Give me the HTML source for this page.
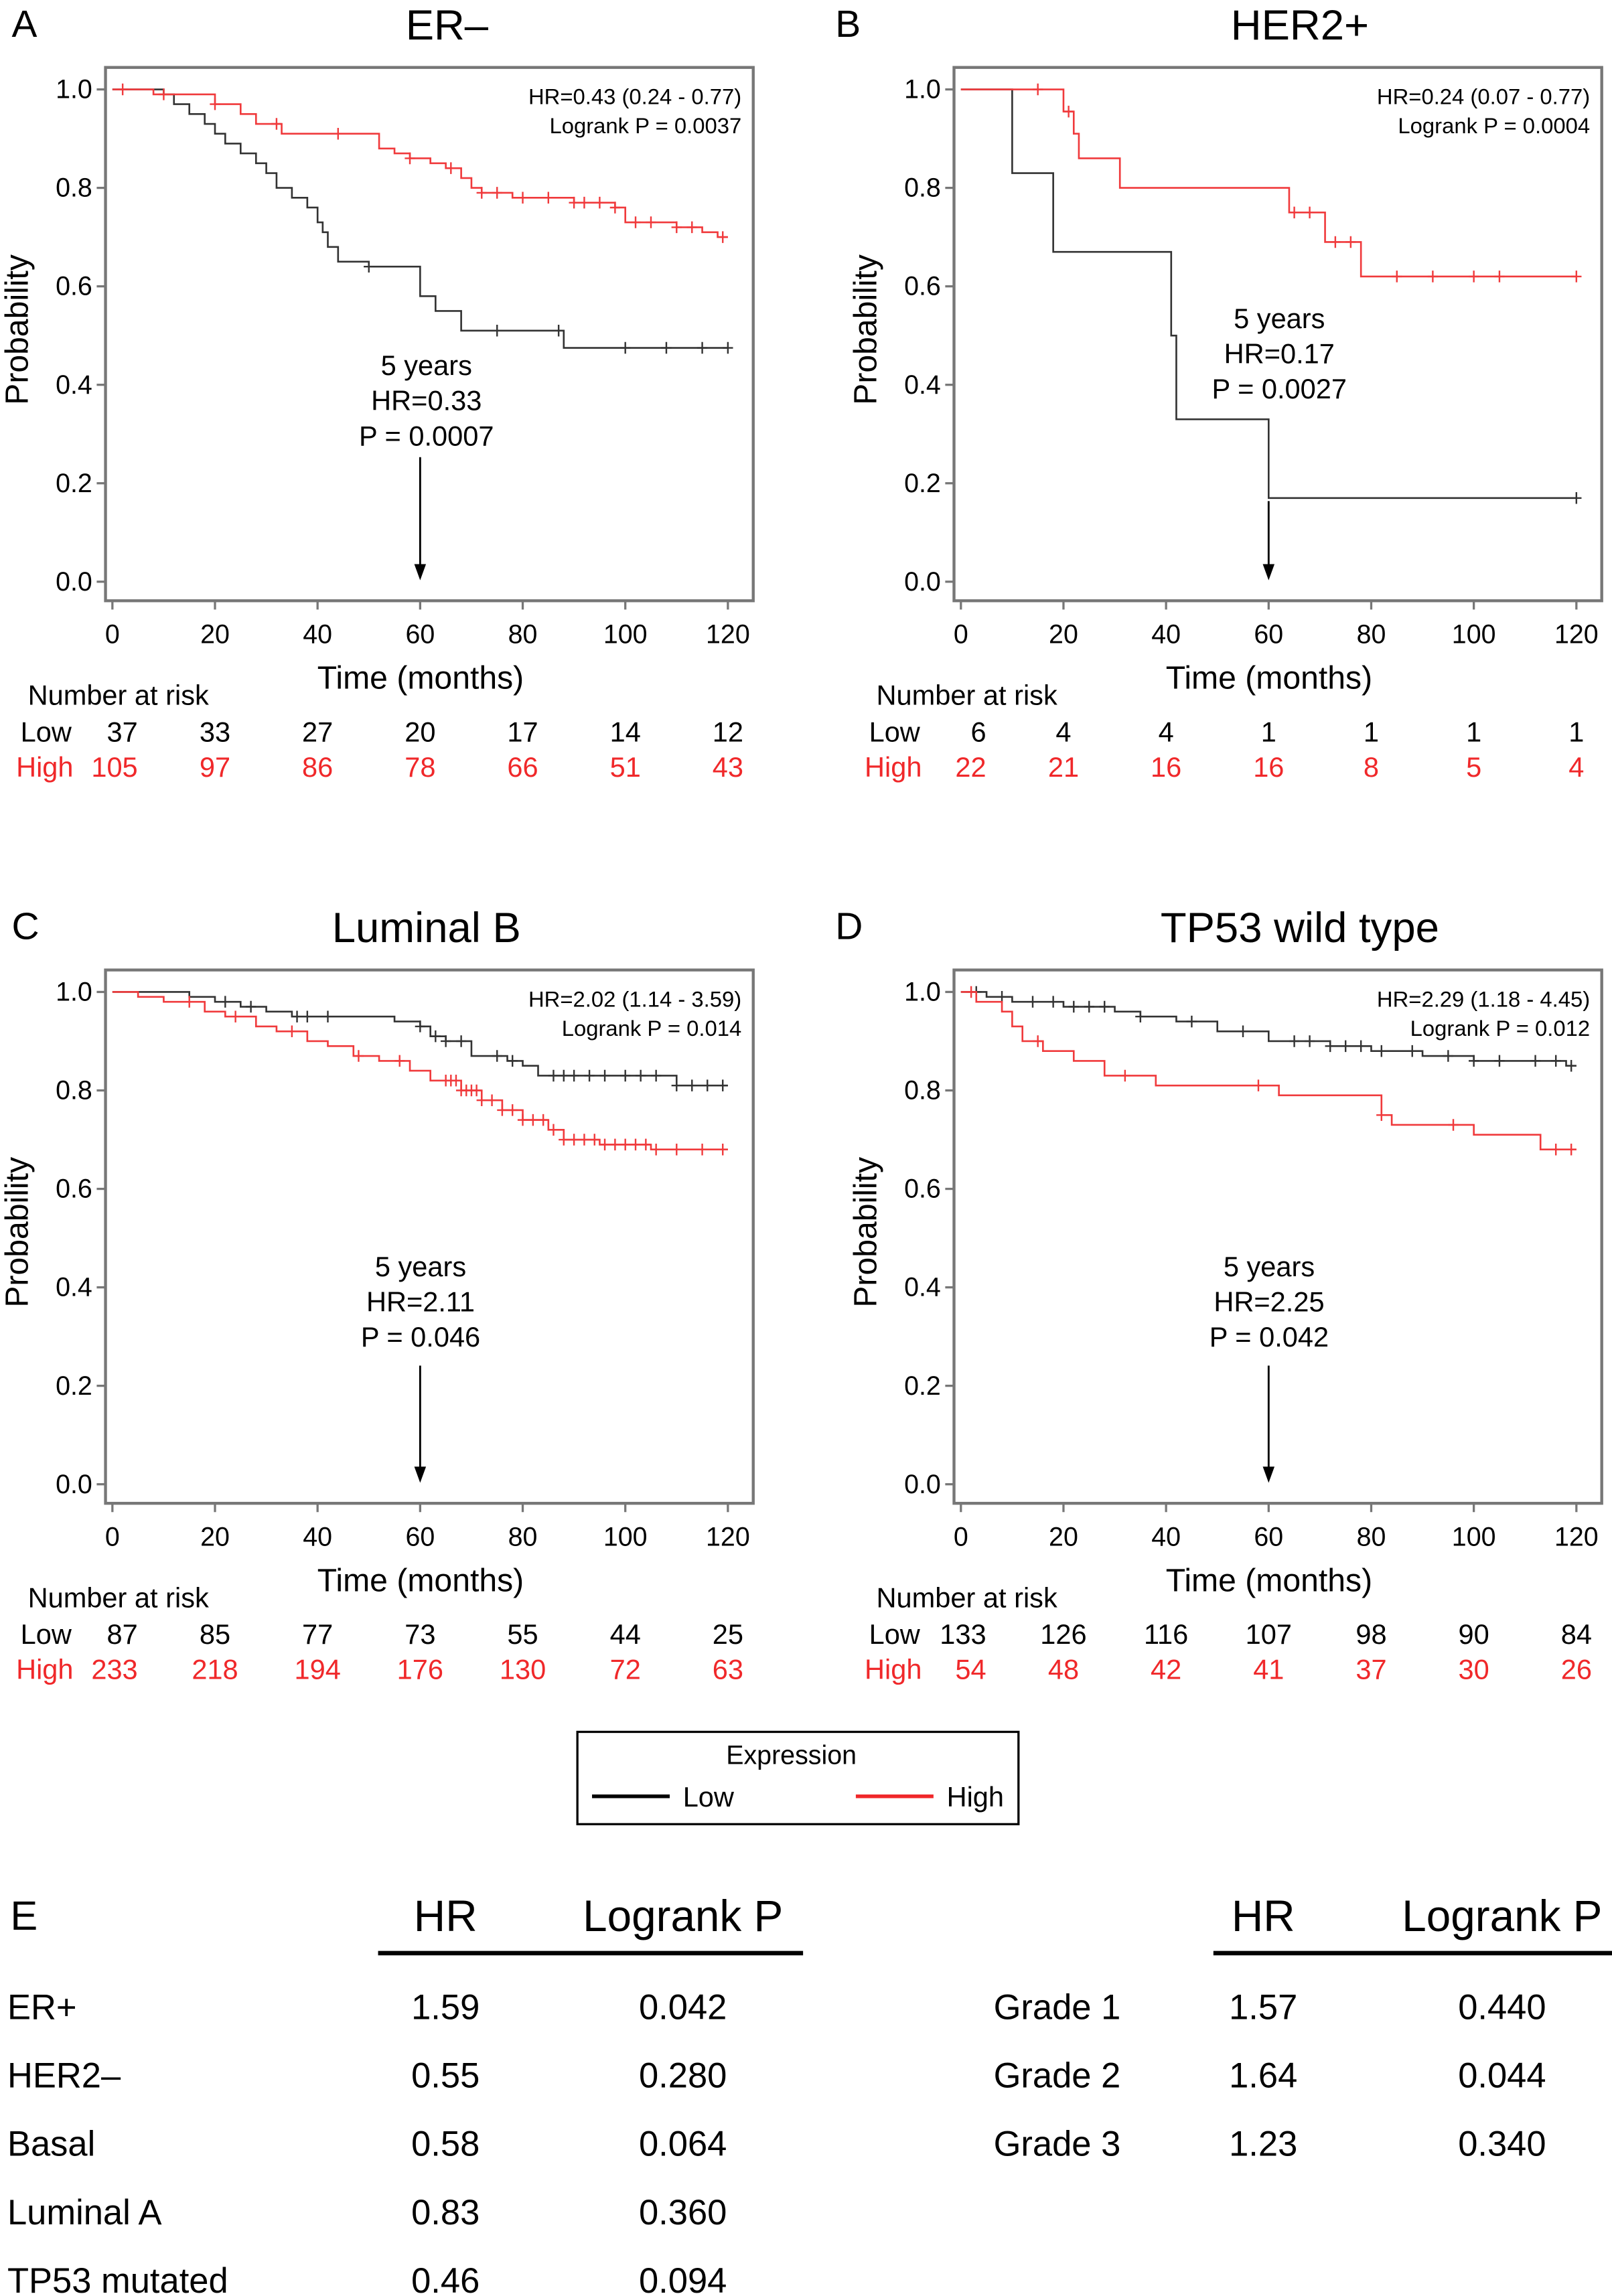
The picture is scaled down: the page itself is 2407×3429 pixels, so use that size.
<!DOCTYPE html>
<html><head><meta charset="utf-8"><style>
html,body{margin:0;padding:0;background:#fff}
svg{display:block}
text{font-family:"Liberation Sans",Arial,sans-serif}
</style></head><body>
<svg id="fig" width="2407" height="3429" viewBox="0 0 1100 1567" xmlns="http://www.w3.org/2000/svg"></svg>
<script>
// Panel A (ER-)
const aLowT=[0,10,12,15,18,20,22,25,28,30,32,35,38,40,41,42,44,50,60,63,68,88,120];
const aLowS=[1,0.99,0.97,0.95,0.93,0.91,0.89,0.87,0.85,0.83,0.80,0.78,0.76,0.73,0.71,0.68,0.65,0.64,0.58,0.55,0.51,0.475,0.475];
const aLowC=[50,75,87,100,108,115,120];
const aHighT=[0,8,20,25,28,33,52,55,58,62,65,68,70,72,78,90,98,100,110,115,118,120];
const aHighS=[1,0.99,0.97,0.95,0.93,0.91,0.88,0.87,0.86,0.85,0.84,0.82,0.80,0.79,0.78,0.77,0.76,0.73,0.72,0.71,0.70,0.70];
const aHighC=[2,10,20,32,44,58,66,72,75,80,85,90,92,95,98,102,105,110,113,119];
// Panel B (HER2+)
const bLowT=[0,10,18,41,42,60,120];
const bLowS=[1,0.83,0.67,0.50,0.33,0.17,0.17];
const bLowC=[120];
const bHighT=[0,20,22,23,31,64,71,78,120];
const bHighS=[1,0.955,0.91,0.86,0.80,0.75,0.69,0.62,0.62];
const bHighC=[15,21,65,68,73,76,85,92,100,105,120];
// Panel C (Luminal B)
const cLowT=[0,15,20,25,30,35,45,55,60,62,65,70,77,80,83,110,120];
const cLowS=[1,0.99,0.98,0.97,0.96,0.95,0.95,0.94,0.93,0.91,0.90,0.87,0.86,0.85,0.83,0.81,0.81];
const cLowC=[22,27,36,38,42,60,63,65,68,75,78,86,88,90,93,96,100,103,106,110,113,116,119];
const cHighT=[0,5,10,18,22,28,32,38,42,47,52,58,62,68,72,76,80,85,88,95,105,120];
const cHighS=[1,0.99,0.98,0.96,0.95,0.93,0.92,0.90,0.89,0.87,0.86,0.84,0.82,0.80,0.78,0.76,0.74,0.72,0.70,0.69,0.68,0.68];
const cHighC=[15,24,35,48,56,65,66,67,68,69,70,71,72,74,76,78,80,82,84,86,88,90,92,94,96,98,100,102,104,106,110,115,119];
// Panel D (TP53 wild type)
const dLowT=[0,5,10,20,30,35,42,50,60,72,80,90,100,118,120];
const dLowS=[1,0.99,0.98,0.97,0.96,0.95,0.94,0.92,0.90,0.89,0.88,0.87,0.86,0.85,0.85];
const dLowC=[3,8,14,18,22,25,28,35,45,55,65,68,72,75,78,82,88,95,100,105,112,116,119];
const dHighT=[0,3,8,10,12,16,22,28,38,62,82,84,100,113,120];
const dHighS=[1,0.98,0.96,0.93,0.90,0.88,0.86,0.83,0.81,0.79,0.75,0.73,0.71,0.68,0.68];
const dHighC=[2,15,32,58,82,96,116,119];
// Numbers at risk
const riskTicks=[0,20,40,60,80,100,120];
const aRiskLow=[37,33,27,20,17,14,12], aRiskHigh=[105,97,86,78,66,51,43];
const bRiskLow=[6,4,4,1,1,1,1], bRiskHigh=[22,21,16,16,8,5,4];
const cRiskLow=[87,85,77,73,55,44,25], cRiskHigh=[233,218,194,176,130,72,63];
const dRiskLow=[133,126,116,107,98,90,84], dRiskHigh=[54,48,42,41,37,30,26];
const yTicks=[0,0.2,0.4,0.6,0.8,1.0];
// Table E
const eLeftNames=["ER+","HER2–","Basal","Luminal A","TP53 mutated"];
const eLeftHR=["1.59","0.55","0.58","0.83","0.46"];
const eLeftP=["0.042","0.280","0.064","0.360","0.094"];
const eRightNames=["Grade 1","Grade 2","Grade 3"];
const eRightHR=["1.57","1.64","1.23"];
const eRightP=["0.440","0.044","0.340"];

const NS="http://www.w3.org/2000/svg";
const svg=document.getElementById('fig');
function mk(tag,attrs,parent){const e=document.createElementNS(NS,tag);for(const k in attrs)e.setAttribute(k,attrs[k]);(parent||svg).appendChild(e);return e;}
function txt(x,y,s,size,anchor,fill,parent){const t=mk('text',{x:x,y:y,'font-size':size,'text-anchor':anchor||'start',fill:fill||'#000'},parent);t.textContent=s;return t;}

function panel(o){
  const g=mk('g',{});
  
  
  const ox=o.ox, oy=o.oy;
  const X=t=>ox+76.7+t*3.5;
  const Y=s=>oy+397-s*336;
  const lt=txt(o.letterX,oy+25,o.letter,26,'start','#000',g);
  
  const ti=txt(ox+o.titleX,oy+27,o.title,29,'middle','#000',g);
  
  const fr=mk('rect',{x:ox+72,y:oy+46,width:442,height:364,fill:'none',stroke:'#777','stroke-width':2},g);
  
  yTicks.forEach(v=>{
    mk('line',{x1:ox+66,x2:ox+72,y1:Y(v),y2:Y(v),stroke:'#777','stroke-width':1.5},g);
    const l=txt(ox+63,Y(v)+6,v.toFixed(1),18,'end','#000',g);
    
  });
  riskTicks.forEach(v=>{
    mk('line',{x1:X(v),x2:X(v),y1:oy+410,y2:oy+416,stroke:'#777','stroke-width':1.5},g);
    const l=txt(X(v),oy+439,String(v),18,'middle','#000',g);
    
  });
  const yl=txt(0,0,'Probability',22,'middle','#000',g);
  yl.setAttribute('transform',`translate(${ox+19},${oy+225}) rotate(-90)`);
  
  const xl=txt(ox+287,oy+470,'Time (months)',22,'middle','#000',g);
  
  [[o.lowT,o.lowS,o.lowC,'#333','low-curve'],[o.highT,o.highS,o.highC,'#f03a3c','high-curve']].forEach(([T,S,C,col,nm])=>{
    let d=`M${X(T[0])},${Y(S[0])}`;
    for(let i=1;i<T.length;i++){d+=` H${X(T[i])} V${Y(S[i])}`;}
    const p=mk('path',{d:d,fill:'none',stroke:col,'stroke-width':1.2},g);
    
    C.forEach(c=>{
      let s=S[0];for(let i=0;i<T.length;i++){if(T[i]<=c)s=S[i];}
      const m=mk('path',{d:`M${X(c)-3.5},${Y(s)} h7 M${X(c)},${Y(s)-4} v8`,stroke:col,'stroke-width':1.1},g);
      
    });
  });
  const h1=txt(ox+506,oy+71,o.hr,15,'end','#000',g);
  
  const h2=txt(ox+506,oy+91,o.lp,15,'end','#000',g);
  
  const a=o.ann;
  [['5 years',0],[a[0],24],[a[1],48]].forEach(([s,dy])=>{
    const t=txt(ox+a[2],oy+a[3]+dy,s,19,'middle','#000',g);
    
  });
  const arr=mk('line',{x1:X(60),x2:X(60),y1:oy+a[4],y2:oy+389,stroke:'#000','stroke-width':1.3},g);
  
  mk('path',{d:`M${X(60)-4},${oy+385} L${X(60)+4},${oy+385} L${X(60)},${oy+396} Z`,fill:'#000'},g);
  const r0=txt(ox+19,oy+481,'Number at risk',19,'start','#000',g);
  
  txt(ox+14,oy+506,'Low',19,'start','#000',g);
  txt(ox+11,oy+530,'High',19,'start','#f0282a',g);
  riskTicks.forEach((v,i)=>{
    const xx=X(v);
    const l=txt(i===0?ox+94:xx,oy+506,String(o.rl[i]),19,i===0?'end':'middle','#000',g);
    
    const h=txt(i===0?ox+94:xx,oy+530,String(o.rh[i]),19,i===0?'end':'middle','#f0282a',g);
    
  });
}
panel({name:'panel-a-er-negative',ox:0,oy:0,letter:'A',letterX:8,title:'ER–',titleX:305,lowT:aLowT,lowS:aLowS,lowC:aLowC,highT:aHighT,highS:aHighS,highC:aHighC,hr:'HR=0.43 (0.24 - 0.77)',lp:'Logrank P = 0.0037',ann:['HR=0.33','P = 0.0007',291,256,312],rl:aRiskLow,rh:aRiskHigh});
panel({name:'panel-b-her2-positive',ox:579,oy:0,letter:'B',letterX:570,title:'HER2+',titleX:308,lowT:bLowT,lowS:bLowS,lowC:bLowC,highT:bHighT,highS:bHighS,highC:bHighC,hr:'HR=0.24 (0.07 - 0.77)',lp:'Logrank P = 0.0004',ann:['HR=0.17','P = 0.0027',294,224,342],rl:bRiskLow,rh:bRiskHigh});
panel({name:'panel-c-luminal-b',ox:0,oy:616,letter:'C',letterX:8,title:'Luminal B',titleX:291,lowT:cLowT,lowS:cLowS,lowC:cLowC,highT:cHighT,highS:cHighS,highC:cHighC,hr:'HR=2.02 (1.14 - 3.59)',lp:'Logrank P = 0.014',ann:['HR=2.11','P = 0.046',287,255,316],rl:cRiskLow,rh:cRiskHigh});
panel({name:'panel-d-tp53-wild-type',ox:579,oy:616,letter:'D',letterX:570,title:'TP53 wild type',titleX:308,lowT:dLowT,lowS:dLowS,lowC:dLowC,highT:dHighT,highS:dHighS,highC:dHighC,hr:'HR=2.29 (1.18 - 4.45)',lp:'Logrank P = 0.012',ann:['HR=2.25','P = 0.042',287,255,316],rl:dRiskLow,rh:dRiskHigh});

const lg=mk('g',{});


mk('rect',{x:394,y:1182,width:301,height:63,fill:'#fff',stroke:'#000','stroke-width':1.5},lg);
txt(540,1204,'Expression',18,'middle','#000',lg);
const le1=mk('line',{x1:404,x2:457,y1:1226,y2:1226,stroke:'#000','stroke-width':2.5},lg);

txt(466,1233,'Low',19,'start','#000',lg);
const le2=mk('line',{x1:584,x2:637,y1:1226,y2:1226,stroke:'#f0282a','stroke-width':2.5},lg);

txt(646,1233,'High',19,'start','#000',lg);

const tb=mk('g',{});


txt(7,1317,'E',28,'start','#000',tb);
function table(names,hrs,ps,lx,hx,px,l1,l2){
  const h=txt(hx,1318,'HR',30,'middle','#000',tb);
  
  const p=txt(px,1318,'Logrank P',30,'middle','#000',tb);
  
  mk('line',{x1:l1,x2:l2,y1:1333,y2:1333,stroke:'#000','stroke-width':3},tb);
  names.forEach((n,i)=>{
    const y=1378+i*46.7;
    const a=txt(lx,y,n,24,'start','#000',tb);
    const b=txt(hx,y,hrs[i],24,'middle','#000',tb);
    const c=txt(px,y,ps[i],24,'middle','#000',tb);
  });
}
table(eLeftNames,eLeftHR,eLeftP,5,304,466,258,548);
table(eRightNames,eRightHR,eRightP,678,862,1025,828,1100);
</script>
</body></html>
